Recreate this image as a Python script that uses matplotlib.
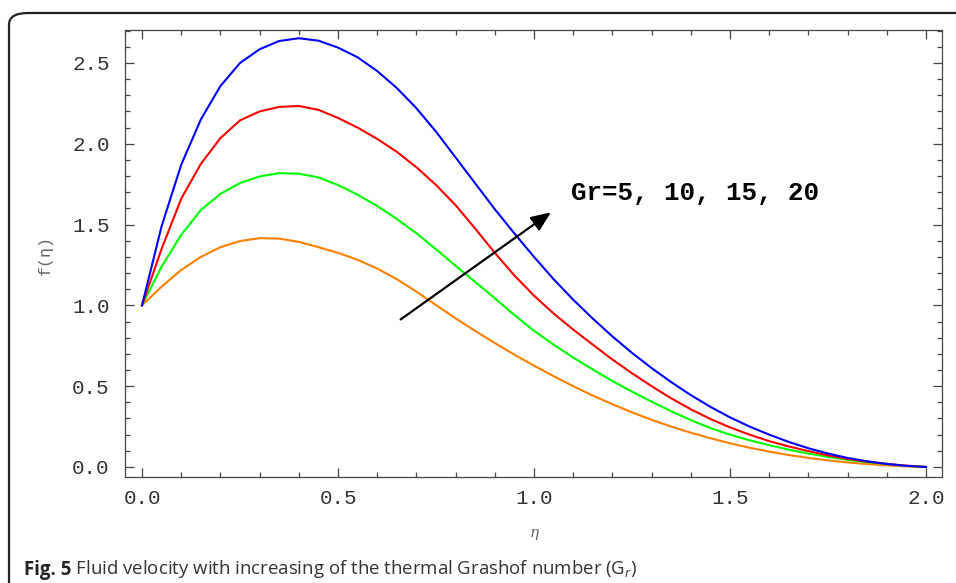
import numpy as np
import matplotlib
matplotlib.use("Agg")
import matplotlib.pyplot as plt
from matplotlib.patches import FancyBboxPatch
from matplotlib.ticker import MultipleLocator, FormatStrFormatter

plt.rcParams['mathtext.fontset'] = 'custom'
plt.rcParams['mathtext.rm'] = 'Open Sans'
plt.rcParams['mathtext.it'] = 'Open Sans:italic'

# velocity profiles f(eta) for Gr = 5, 10, 15, 20
eta = [0.0, 0.05, 0.1, 0.15, 0.2, 0.25, 0.3, 0.35, 0.4, 0.45, 0.5, 0.55, 0.6,
       0.65, 0.7, 0.75, 0.8, 0.85, 0.9, 0.95, 1.0, 1.05, 1.1, 1.15, 1.2, 1.25,
       1.3, 1.35, 1.4, 1.45, 1.5, 1.55, 1.6, 1.65, 1.7, 1.75, 1.8, 1.85, 1.9,
       1.95, 2.0]
f_gr5 = [1.0, 1.116, 1.219, 1.300, 1.360, 1.398, 1.416, 1.413, 1.393, 1.360,
         1.325, 1.282, 1.228, 1.162, 1.085, 1.002, 0.920, 0.842, 0.767, 0.695,
         0.627, 0.562, 0.500, 0.442, 0.388, 0.338, 0.292, 0.250, 0.212, 0.178,
         0.147, 0.119, 0.095, 0.074, 0.056, 0.041, 0.028, 0.018, 0.010, 0.004,
         0.0]
f_gr10 = [1.0, 1.240, 1.436, 1.590, 1.690, 1.757, 1.798, 1.818, 1.815, 1.792,
          1.745, 1.685, 1.615, 1.535, 1.446, 1.347, 1.245, 1.145, 1.044, 0.940,
          0.843, 0.757, 0.677, 0.603, 0.532, 0.466, 0.404, 0.345, 0.290, 0.241,
          0.200, 0.165, 0.135, 0.107, 0.083, 0.062, 0.044, 0.029, 0.017, 0.007,
          0.0]
f_gr15 = [1.0, 1.350, 1.660, 1.875, 2.035, 2.145, 2.200, 2.228, 2.234, 2.210,
          2.160, 2.100, 2.030, 1.950, 1.855, 1.745, 1.620, 1.475, 1.325, 1.185,
          1.060, 0.950, 0.850, 0.757, 0.665, 0.580, 0.500, 0.425, 0.357, 0.297,
          0.245, 0.200, 0.160, 0.127, 0.098, 0.072, 0.050, 0.033, 0.019, 0.008,
          0.0]
f_gr20 = [1.0, 1.490, 1.870, 2.150, 2.357, 2.500, 2.585, 2.636, 2.653, 2.638,
          2.595, 2.535, 2.450, 2.345, 2.220, 2.075, 1.915, 1.755, 1.595, 1.445,
          1.300, 1.162, 1.035, 0.918, 0.808, 0.706, 0.612, 0.525, 0.445, 0.372,
          0.307, 0.250, 0.200, 0.155, 0.116, 0.083, 0.056, 0.035, 0.019, 0.007,
          0.0]

profiles = [f_gr5, f_gr10, f_gr15, f_gr20]
colors = ['#ff8000', '#00ff00', '#ff0000', '#0000ff']

fig = plt.figure(figsize=(9.56, 5.83), dpi=100)

# rounded panel border
frame = FancyBboxPatch((9/956, -0.1), 1.2, 1 - 13/583 + 0.1,
                       boxstyle="round,pad=0,rounding_size=0.02",
                       transform=fig.transFigure, fill=False,
                       edgecolor='#222222', linewidth=1.6, clip_on=False)
fig.patches.append(frame)

ax = fig.add_axes([125/956, 1 - 477/583, 817/956, 447/583])
for f, c in zip(profiles, colors):
    ax.plot(eta, f, color=c, linewidth=1.5, solid_joinstyle='round')

ax.set_xlim(-0.0434, 2.0408)
ax.set_ylim(-0.062, 2.704)
ax.xaxis.set_major_locator(MultipleLocator(0.5))
ax.xaxis.set_minor_locator(MultipleLocator(0.1))
ax.yaxis.set_major_locator(MultipleLocator(0.5))
ax.yaxis.set_minor_locator(MultipleLocator(0.1))
ax.xaxis.set_major_formatter(FormatStrFormatter('%.1f'))
ax.yaxis.set_major_formatter(FormatStrFormatter('%.1f'))
ax.tick_params(which='both', direction='in', top=True, right=True,
               color='#444444', width=0.9)
ax.tick_params(which='major', length=6.5)
ax.tick_params(which='minor', length=3.6)
ax.tick_params(axis='x', pad=9)
ax.tick_params(axis='y', pad=11)
for lab in ax.get_xticklabels() + ax.get_yticklabels():
    lab.set_family('Liberation Mono')
    lab.set_fontsize(15)
    lab.set_color('#333333')
for s in ax.spines.values():
    s.set_color('#444444')
    s.set_linewidth(0.9)

ax.annotate('', xy=(1.049, 1.586), xytext=(0.654, 0.903),
            arrowprops=dict(arrowstyle='-|>,head_length=1.2,head_width=0.5',
                            color='black', lw=1.6))
ax.text(1.094, 1.696, 'Gr=5, 10, 15, 20', family='Liberation Mono',
        weight='bold', fontsize=18.6, va='center', ha='left')

fig.text(45/956, 1 - 255/583, 'f(η)', rotation=90, family='Liberation Mono',
         fontsize=12, color='#666666', ha='center', va='center')
fig.text(534/956, 1 - 533/583, 'η', style='italic', family='DejaVu Serif',
         fontsize=11, color='#666666', ha='center', va='center')

t1 = fig.text(24/956, 1 - 575/583, 'Fig. 5', family='Open Sans',
              weight='bold', fontsize=13.4, color='#222222', va='baseline')
plt.annotate(' Fluid velocity with increasing of the thermal Grashof number (G$_r$)',
             xy=(1, 0), xycoords=t1, xytext=(0, 0), textcoords='offset points',
             family='Open Sans', fontsize=13.4, color='#333333',
             va='bottom', ha='left', annotation_clip=False)

fig.savefig('out.png', dpi=100)
